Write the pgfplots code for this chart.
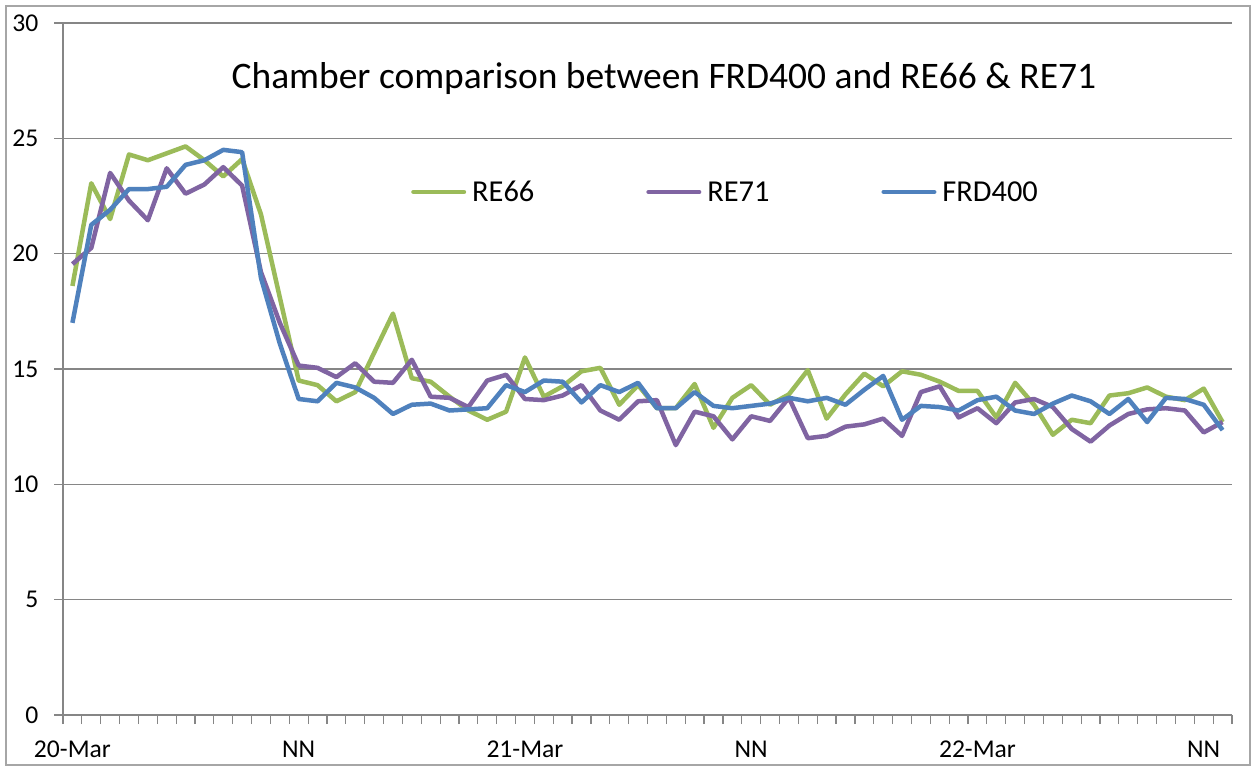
\documentclass[border=0pt]{standalone}
\usepackage{fontspec}
\setmainfont{Carlito}
\usepackage{pgfplots}
\usepackage{pgfplotstable}
\pgfplotsset{compat=1.18}
\definecolor{cgreen}{HTML}{9BBB59}
\definecolor{cpurple}{HTML}{8064A2}
\definecolor{cblue}{HTML}{4F81BD}
\definecolor{axgray}{HTML}{868686}
\definecolor{framegray}{HTML}{A6A6A6}

% hourly readings, 62 categories
\pgfplotstableread{
idx re66 re71 frd
0 18.6 19.55 17.0
1 23.05 20.25 21.25
2 21.5 23.5 21.9
3 24.3 22.3 22.8
4 24.05 21.45 22.8
5 24.35 23.7 22.9
6 24.65 22.6 23.85
7 24.05 23.0 24.05
8 23.35 23.75 24.5
9 24.1 22.95 24.4
10 21.7 19.2 18.95
11 18.1 17.0 16.1
12 14.5 15.15 13.7
13 14.3 15.05 13.6
14 13.6 14.65 14.4
15 14.0 15.25 14.2
16 15.7 14.45 13.75
17 17.4 14.4 13.05
18 14.6 15.4 13.45
19 14.45 13.8 13.5
20 13.8 13.75 13.2
21 13.2 13.35 13.25
22 12.8 14.5 13.3
23 13.15 14.75 14.3
24 15.5 13.7 14.0
25 13.8 13.65 14.5
26 14.25 13.85 14.45
27 14.9 14.3 13.55
28 15.05 13.2 14.3
29 13.45 12.8 14.0
30 14.3 13.6 14.4
31 13.3 13.65 13.3
32 13.3 11.7 13.3
33 14.35 13.15 14.0
34 12.45 12.95 13.4
35 13.75 11.95 13.3
36 14.3 12.95 13.4
37 13.45 12.75 13.5
38 13.9 13.75 13.75
39 14.95 12.0 13.6
40 12.85 12.1 13.75
41 13.9 12.5 13.45
42 14.8 12.6 14.1
43 14.25 12.85 14.7
44 14.9 12.1 12.8
45 14.75 14.0 13.4
46 14.45 14.25 13.35
47 14.05 12.9 13.2
48 14.05 13.3 13.65
49 12.9 12.65 13.8
50 14.4 13.55 13.2
51 13.45 13.7 13.05
52 12.15 13.35 13.5
53 12.8 12.4 13.85
54 12.65 11.85 13.6
55 13.85 12.55 13.05
56 13.95 13.05 13.7
57 14.2 13.25 12.7
58 13.8 13.3 13.75
59 13.65 13.2 13.7
60 14.15 12.25 13.45
61 12.7 12.7 12.35
}\chamberdata

\begin{document}
\begin{tikzpicture}
\path[use as bounding box] (0,0) rectangle (1255bp,768bp);
\fill[white] (0,0) rectangle (1255bp,768bp);
\draw[framegray, line width=1.2bp] (6bp,3bp) rectangle (1250bp,762bp);
\begin{axis}[
  at={(63bp,53bp)}, anchor=south west,
  scale only axis, width=1169bp, height=692bp,
  xmin=-0.5, xmax=61.5, ymin=0, ymax=30,
  axis x line*=bottom, axis y line*=left,
  axis line style={draw=axgray, line width=1.2bp, -},
  ytick={0,5,...,30},
  ymajorgrids, grid style={draw=axgray, line width=1.2bp},
  xtick={-0.5,0.5,...,61.5}, xticklabels={},
  extra x ticks={0,12,24,36,48,60},
  extra x tick labels={20-Mar,NN,21-Mar,NN,22-Mar,NN},
  extra x tick style={major tick length=0pt},
  tick align=outside, major tick length=9bp,
  tick style={draw=axgray, line width=1.2bp},
  /pgf/number format/assume math mode=true,
  tick label style={font=\fontsize{25.7}{30}\selectfont},
  yticklabel style={anchor=east, inner sep=0pt, xshift=-15.5bp},
  xticklabel style={anchor=base, inner sep=0pt, yshift=-42bp},
  legend columns=3,
  legend style={at={(0.2977,0.7558)}, anchor=west, draw=none, fill=none,
    inner sep=0pt, font=\fontsize{30.5}{34}\selectfont, nodes={inner sep=0pt},
    /tikz/every odd column/.append style={column sep=6bp},
    /tikz/every even column/.append style={column sep=112bp}},
  legend image code/.code={\draw[#1, line cap=round] (0bp,0bp) -- (50.5bp,0bp);},
  every axis plot/.append style={line width=4.5bp, line join=round, mark=none},
]
\addplot[cgreen] table[x=idx, y=re66]{\chamberdata};
\addlegendentry{RE66}
\addplot[cpurple] table[x=idx, y=re71]{\chamberdata};
\addlegendentry{RE71}
\addplot[cblue] table[x=idx, y=frd]{\chamberdata};
\addlegendentry{FRD400}
\node[anchor=base, font=\fontsize{37.6}{40}\selectfont] at (rel axis cs:0.514,0.9053)
  {Chamber comparison between FRD400 and RE66 \& RE71};
\end{axis}
\end{tikzpicture}
\end{document}
